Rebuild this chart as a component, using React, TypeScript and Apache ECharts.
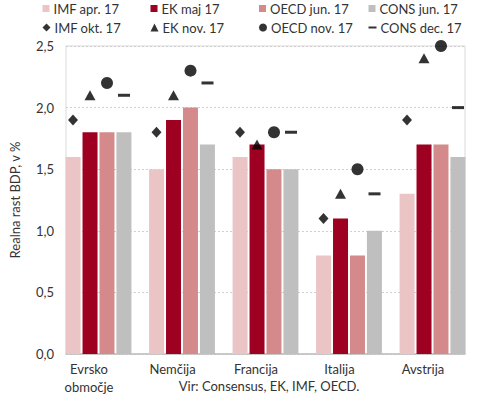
import React, { useEffect, useRef } from "react";
import * as echarts from "echarts";

const categories = ["Evrsko\nobmočje", "Nemčija", "Francija", "Italija", "Avstrija"];
const imfApr = [1.6, 1.5, 1.6, 0.8, 1.3];
const ekMaj = [1.8, 1.9, 1.7, 1.1, 1.7];
const oecdJun = [1.8, 2.0, 1.5, 0.8, 1.7];
const consJun = [1.8, 1.7, 1.5, 1.0, 1.6];
const imfOkt = [1.9, 1.8, 1.8, 1.1, 1.9];
const ekNov = [2.1, 2.1, 1.7, 1.3, 2.4];
const oecdNov = [2.2, 2.3, 1.8, 1.5, 2.5];
const consDec = [2.1, 2.2, 1.8, 1.3, 2.0];
const yTicks = [0, 0.5, 1.0, 1.5, 2.0, 2.5];

const FONT = "Lato";
const TXT = "#333333";

const barNames = ["IMF apr. 17", "EK maj 17", "OECD jun. 17", "CONS jun. 17"];
const barColors = ["#EBC4C5", "#9E0021", "#D48A8B", "#BFBFBF"];
const barData = [imfApr, ekMaj, oecdJun, consJun];
const markNames = ["IMF okt. 17", "EK nov. 17", "OECD nov. 17", "CONS dec. 17"];
const markData = [imfOkt, ekNov, oecdNov, consDec];
const markSymbols = ["diamond", "triangle", "circle", "rect"];
const markSizes: any[] = [[10, 11], [11, 10], 12, [12, 3]];
const markOffsets = [-25.5, -8.5, 8.5, 25.5];
const legendX = [42.5, 150.5, 259, 368.5];

export default function App() {
  const ref = useRef<HTMLDivElement>(null);
  useEffect(() => {
    const chart = echarts.init(ref.current!, null, { renderer: "svg" });
    const legends: any[] = [];
    barNames.forEach((n, i) => {
      legends.push({
        data: [n],
        left: legendX[i],
        top: 2,
        padding: 0,
        icon: "rect",
        itemWidth: 7,
        itemHeight: 7,
        itemGap: 0,
        textStyle: { fontFamily: FONT, fontSize: 13, color: TXT, padding: [0, 0, 0, -1] },
      });
    });
    markNames.forEach((n, i) => {
      legends.push({
        data: [n],
        left: legendX[i],
        top: 21,
        padding: 0,
        itemWidth: 8,
        itemHeight: i === 3 ? 2 : 8,
        itemGap: 0,
        textStyle: { fontFamily: FONT, fontSize: 13, color: TXT, padding: [0, 0, 0, -1] },
      });
    });
    const series: any[] = [];
    barNames.forEach((n, i) => {
      series.push({
        type: "bar",
        name: n,
        xAxisIndex: 1,
        yAxisIndex: 1,
        data: barData[i],
        barWidth: 15,
        barGap: "13%",
        itemStyle: { color: barColors[i] },
      });
    });
    markNames.forEach((n, i) => {
      series.push({
        type: "scatter",
        name: n,
        xAxisIndex: 1,
        yAxisIndex: 1,
        data: markData[i],
        symbol: markSymbols[i],
        symbolSize: markSizes[i],
        symbolOffset: [markOffsets[i], 0],
        itemStyle: { color: "#000000" },
        z: 5,
      });
    });
    chart.setOption({
      animation: false,
      backgroundColor: "#ffffff",
      textStyle: { fontFamily: FONT },
      legend: legends,
      grid: [
        { left: 66, top: 46, width: 399, height: 308, show: true, borderColor: "#D9D9D9", borderWidth: 1 },
        { left: 56.75, top: 46, width: 417.5, height: 308 },
      ],
      xAxis: [
        { type: "value", gridIndex: 0, min: 0, max: 1, show: true, axisLabel: { show: false }, axisTick: { show: false }, splitLine: { show: false }, axisLine: { show: true, lineStyle: { color: "#BFBFBF", width: 1.5 } } },
        {
          type: "category",
          gridIndex: 1,
          data: categories,
          axisLine: { show: false },
          axisTick: { show: false },
          axisLabel: { fontFamily: FONT, fontSize: 13, color: TXT, margin: 6, lineHeight: 18, padding: [0, 19, 0, 0] },
        },
      ],
      yAxis: [
        {
          type: "value",
          gridIndex: 0,
          min: yTicks[0],
          max: yTicks[yTicks.length - 1],
          interval: 0.5,
          axisLine: { show: false },
          axisTick: { show: false },
          splitLine: { lineStyle: { color: "#D0D0D0", type: [2, 2], width: 1 } },
          axisLabel: { fontFamily: FONT, fontSize: 13, color: TXT, margin: 12, formatter: (v: number) => v.toFixed(1).replace(".", ",") },
          name: "Realna rast BDP, v %",
          nameLocation: "middle",
          nameRotate: 90,
          nameGap: 45,
          nameTextStyle: { fontFamily: FONT, fontSize: 13, color: TXT },
        },
        { type: "value", gridIndex: 1, min: 0, max: 2.5, interval: 0.5, show: false },
      ],
      graphic: [
        { type: "text", x: 269, y: 386, style: { text: "Vir: Consensus, EK, IMF, OECD.", fontFamily: FONT, fontSize: 13, fill: TXT, align: "center", verticalAlign: "middle" } },
      ],
      series,
    });
    return () => chart.dispose();
  }, []);
  return <div ref={ref} style={{ width: 490, height: 399, position: "absolute", left: 0, top: 0 }} />;
}
